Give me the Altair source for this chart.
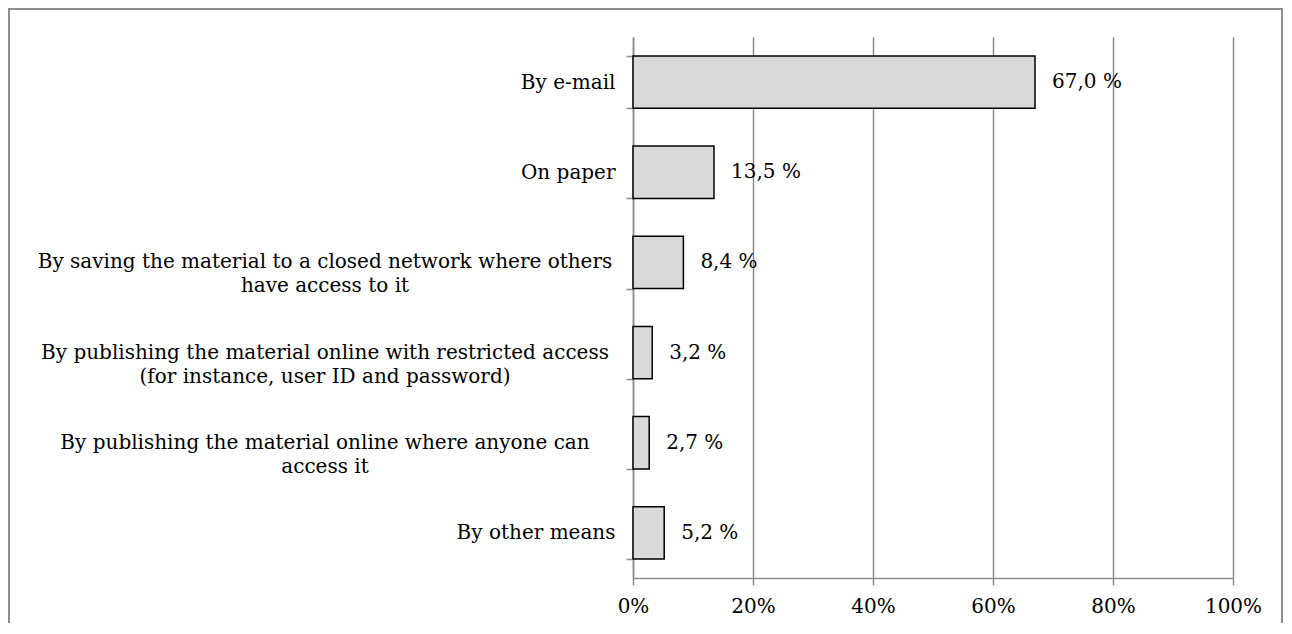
import altair as alt
import pandas as pd

categories = [
    "By e-mail",
    "On paper",
    "By saving the material to a closed network where others|have access to it",
    "By publishing the material online with restricted access|(for instance, user ID and password)",
    "By publishing the material online where anyone can|access it",
    "By other means",
]
values = [67.0, 13.5, 8.4, 3.2, 2.7, 5.2]
x_ticks = [0, 20, 40, 60, 80, 100]

df = pd.DataFrame({"cat": categories, "value": values})

FONT = "DejaVu Serif"
FS = 20
GRID = "#8c8c8c"

base = alt.Chart(df)

y_enc = alt.Y(
    "cat:N",
    sort=categories,
    scale=alt.Scale(paddingInner=0.42, paddingOuter=0.21),
    axis=alt.Axis(
        title=None,
        labelExpr="indexof(datum.label, '|') >= 0 ? '' : datum.label",
        labelFont=FONT,
        labelFontSize=FS,
        labelColor="black",
        labelAlign="right",
        labelPadding=11,
        labelLimit=700,
        tickBand="extent",
        tickSize=7,
        tickColor=GRID,
        tickWidth=1.5,
        domainColor=GRID,
        domainWidth=1.5,
        grid=False,
    ),
)

x_enc = alt.X(
    "value:Q",
    scale=alt.Scale(domain=[0, 100]),
    axis=alt.Axis(
        title=None,
        values=x_ticks,
        labelExpr="datum.value + '%'",
        labelFont=FONT,
        labelFontSize=FS,
        labelColor="black",
        labelPadding=11,
        labelFlush=False,
        tickSize=7,
        tickColor=GRID,
        tickWidth=1.5,
        domainColor=GRID,
        domainWidth=1.5,
        grid=True,
        gridColor=GRID,
        gridWidth=1.5,
    ),
)

bars = base.mark_bar(fill="#d9d9d9", stroke="black", strokeWidth=1.5).encode(
    x=x_enc, y=y_enc
)

value_labels = base.transform_calculate(
    txt="replace(format(datum.value, '.1f'), '.', ',') + ' %'"
).mark_text(
    align="left", baseline="middle", dx=17, font=FONT, fontSize=FS, color="black"
).encode(
    x="value:Q", y=alt.Y("cat:N", sort=categories), text="txt:N"
)

multi_labels = base.transform_filter(
    "indexof(datum.cat, '|') >= 0"
).mark_text(
    align="center", baseline="middle", lineBreak="|", lineHeight=24,
    font=FONT, fontSize=FS, color="black"
).encode(
    x=alt.value(-308), y=alt.Y("cat:N", sort=categories), text="cat:N"
)

frame = alt.Chart(alt.Data(values=[{}])).mark_rect(
    fill=None, stroke="#8e8e8e", strokeWidth=2
).encode(
    x=alt.value(-624), x2=alt.value(649), y=alt.value(-28), y2=alt.value(620)
)

chart = alt.layer(frame, bars, value_labels, multi_labels).properties(
    width=600,
    height=541,
    background="white",
    autosize=alt.AutoSizeParams(type="none"),
    padding={"left": 625, "top": 29, "right": 51, "bottom": 45},
).configure_view(strokeWidth=0)

chart.save("out.html", embed_options={"renderer": "svg", "actions": False})
